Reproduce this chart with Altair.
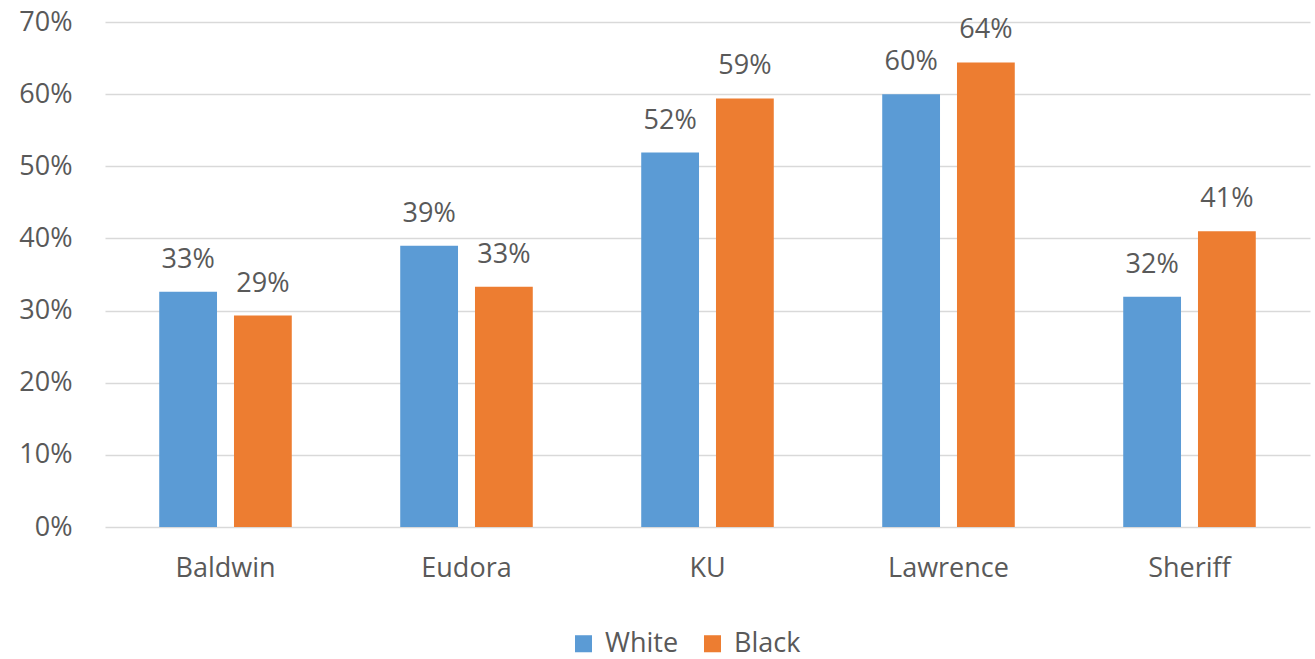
import altair as alt
import pandas as pd

# Share of each group, by agency
agencies = ["Baldwin", "Eudora", "KU", "Lawrence", "Sheriff"]
white = [0.326, 0.390, 0.519, 0.600, 0.319]
black = [0.293, 0.333, 0.594, 0.644, 0.410]
groups = ["White", "Black"]
colors = ["#5B9BD5", "#ED7D31"]

rows = []
for i, a in enumerate(agencies):
    rows.append({"agency": a, "group": "White", "value": white[i]})
    rows.append({"agency": a, "group": "Black", "value": black[i]})
df = pd.DataFrame(rows)

FONT = "Open Sans"
TXT = "#595959"
FS = 27

x = alt.X("agency:N", sort=agencies, title=None,
          scale=alt.Scale(paddingInner=0.45, paddingOuter=0.225),
          axis=alt.Axis(labelAngle=0, ticks=False, domain=False, grid=False,
                        labelFontSize=FS, labelColor=TXT, labelFont=FONT,
                        labelPadding=28))
xo = alt.XOffset("group:N", sort=groups,
                 scale=alt.Scale(paddingInner=0.227, paddingOuter=0))
y = alt.Y("value:Q", title=None,
          scale=alt.Scale(domain=[0, 0.7], nice=False),
          axis=alt.Axis(format=".0%", values=[0, 0.1, 0.2, 0.3, 0.4, 0.5, 0.6, 0.7],
                        ticks=False, domain=False, labelFontSize=FS, labelColor=TXT,
                        labelFont=FONT, labelPadding=33, gridColor="#D9D9D9",
                        gridWidth=1.5))
color = alt.Color("group:N", sort=groups,
                  scale=alt.Scale(domain=groups, range=colors),
                  legend=alt.Legend(title=None, orient="none", direction="horizontal",
                                    legendX=465, legendY=608, symbolType="square",
                                    symbolSize=290, symbolStrokeWidth=0,
                                    labelFontSize=FS, labelColor=TXT, labelFont=FONT,
                                    columnPadding=20, labelOffset=8))

bars = alt.Chart(df).mark_bar().encode(x=x, xOffset=xo, y=y, color=color)
labels = alt.Chart(df).mark_text(dy=-24, baseline="alphabetic", fontSize=FS,
                                 font=FONT, color=TXT).encode(
    x=x, xOffset=xo, y=y, text=alt.Text("value:Q", format=".0%"))

chart = (bars + labels).properties(
    width=1205, height=505,
    background="white",
    autosize=alt.AutoSizeParams(type="none"),
    padding={"left": 105, "top": 22, "right": 5, "bottom": 132},
).configure_view(stroke=None)

chart.save("out.html", embed_options={"renderer": "svg", "actions": False})
